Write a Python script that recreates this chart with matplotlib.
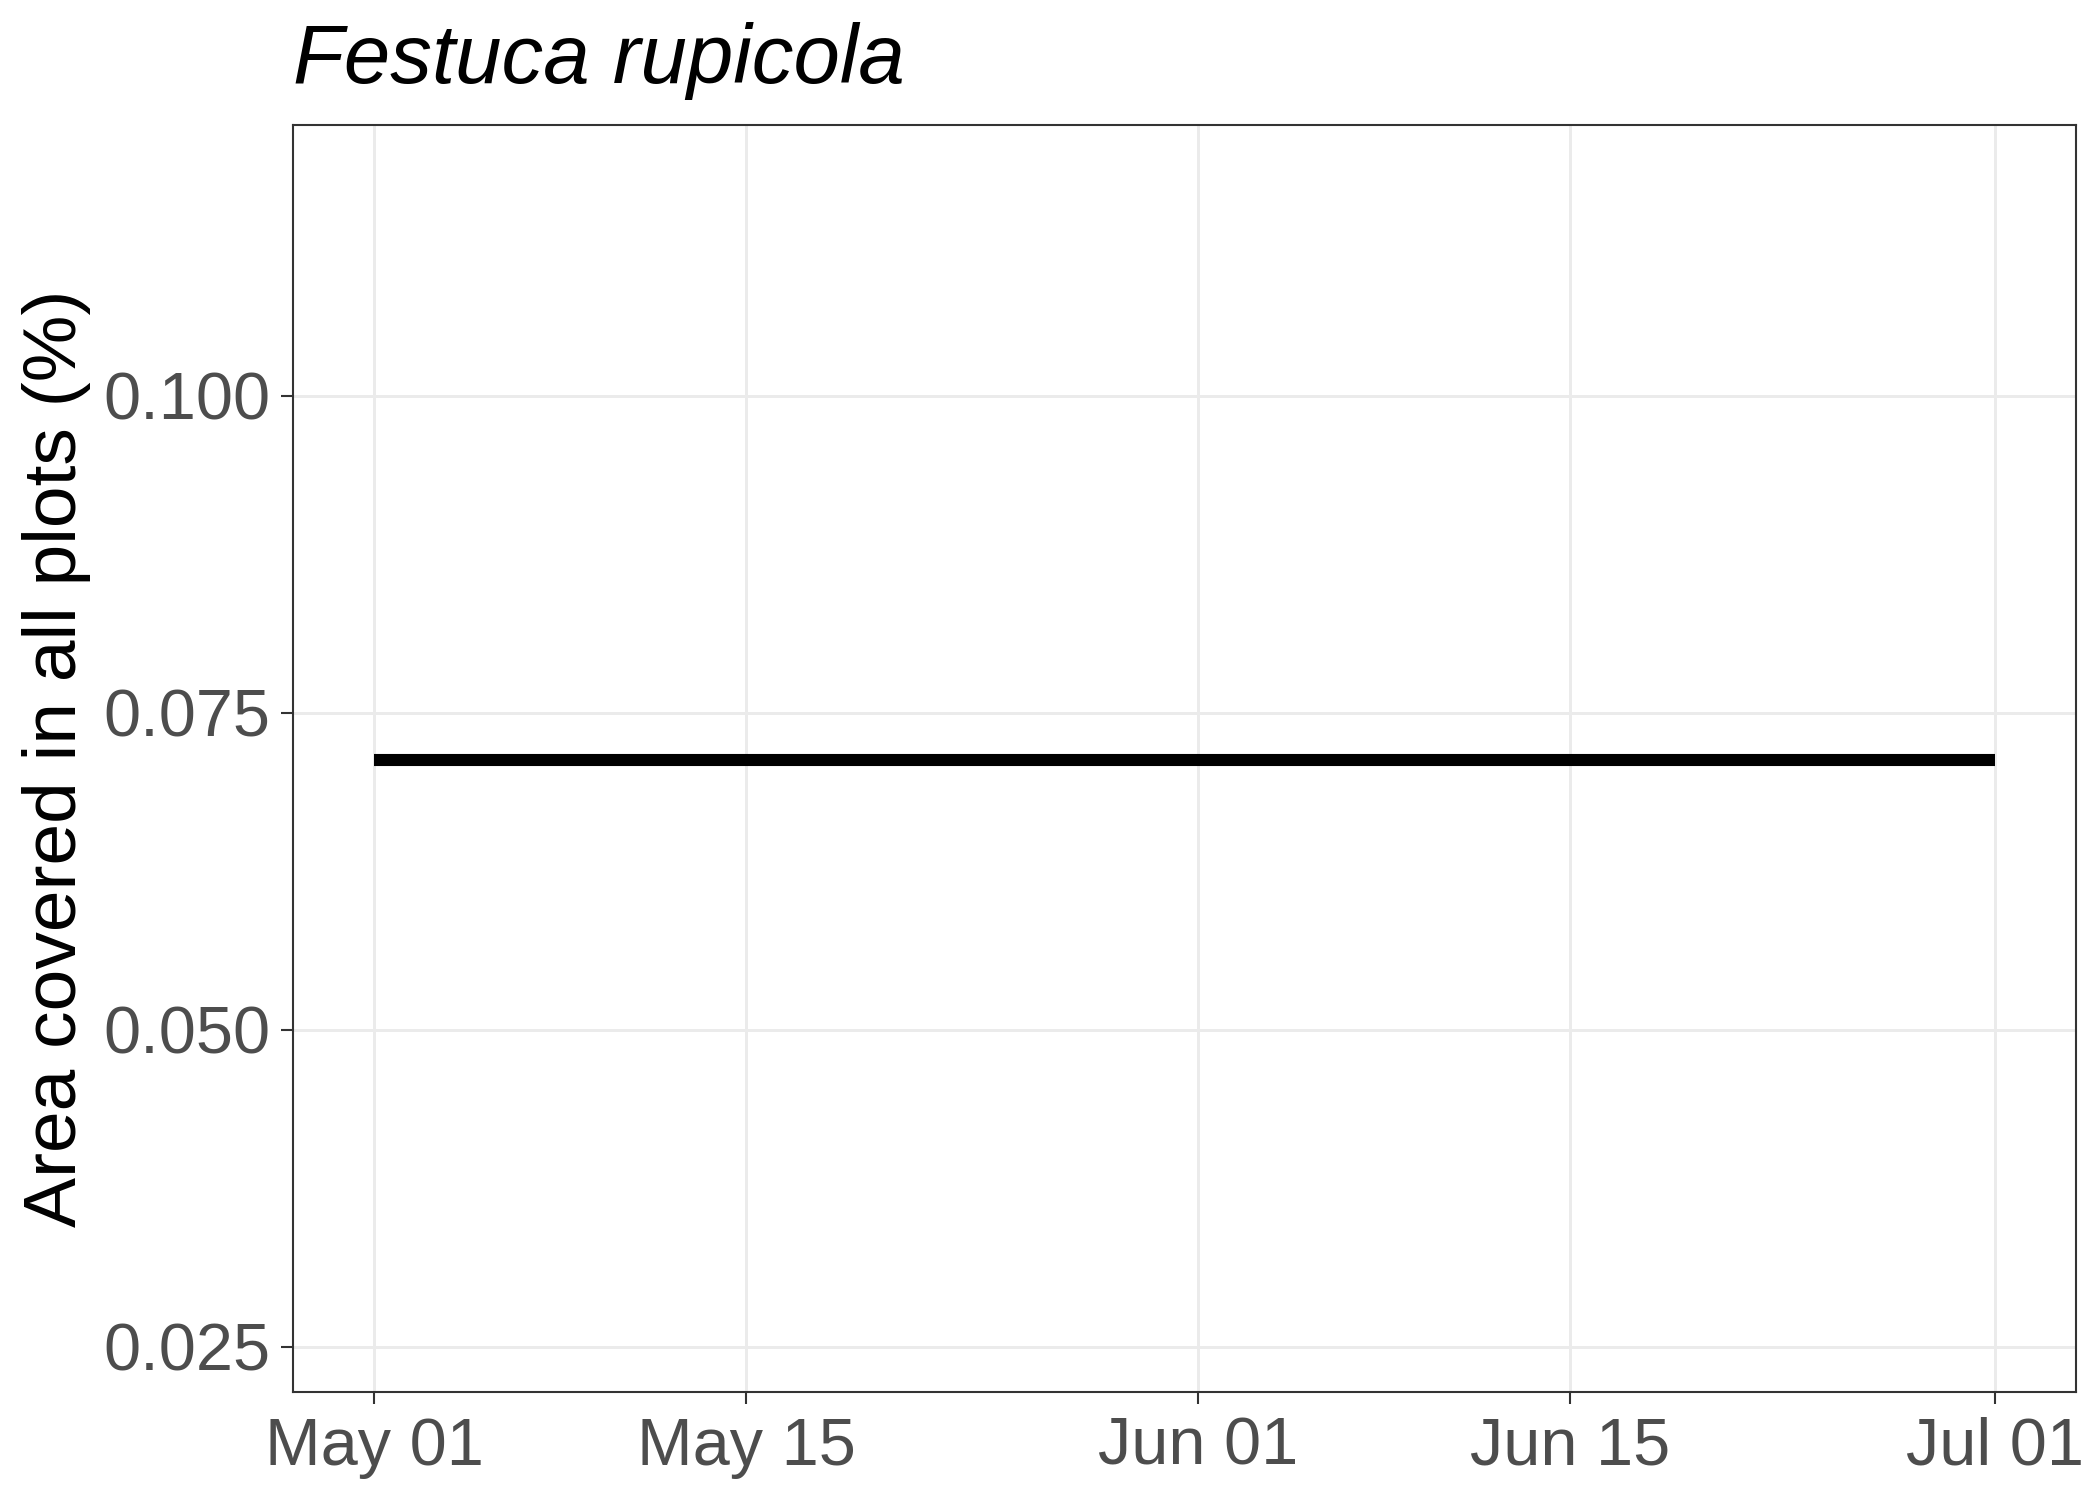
import numpy as np
import pandas as pd
import matplotlib
matplotlib.use("Agg")
import matplotlib.pyplot as plt
import matplotlib.dates as mdates

# data
dates = pd.to_datetime(["2021-05-01", "2021-07-01"])
cover = [0.0713, 0.0713]
y_ticks = [0.025, 0.050, 0.075, 0.100]
x_ticks = pd.to_datetime(["2021-05-01", "2021-05-15", "2021-06-01", "2021-06-15", "2021-07-01"])

plt.rcParams['font.family'] = ['Liberation Sans', 'DejaVu Sans']

fig = plt.figure(figsize=(7, 5), dpi=300)
# panel: left 293, right 2076, top 125, bottom 1392 (px of 2100x1500)
ax = fig.add_axes([293 / 2100, 1 - 1392 / 1500, (2076 - 293) / 2100, (1392 - 125) / 1500])

ax.plot(dates, cover, color='black', linewidth=2.9, solid_capstyle='butt', zorder=3)

# ggplot-style 5% expansion on x
span = dates[-1] - dates[0]
ax.set_xlim(dates[0] - span * 0.05, dates[-1] + span * 0.05)
ax.set_ylim(0.02145, 0.12135)

ax.set_xticks(x_ticks)
ax.xaxis.set_major_formatter(mdates.DateFormatter('%b %d'))
ax.set_yticks(y_ticks)
ax.set_yticklabels([f"{v:.3f}" for v in y_ticks])

ax.grid(True, color='#EBEBEB', linewidth=0.7, zorder=0)
ax.set_axisbelow(True)
for s in ax.spines.values():
    s.set_color('#333333')
    s.set_linewidth(0.5)

ax.tick_params(axis='both', colors='#333333', length=2.9, width=0.5,
               labelsize=16, labelcolor='#4D4D4D')
ax.tick_params(axis='x', pad=3.0)
ax.tick_params(axis='y', pad=2.5)

ax.set_ylabel("Area covered in all plots (%)", fontsize=18, color='black', labelpad=3)
fig.text(293 / 2100, 1 - 83 / 1500, "Festuca rupicola", fontsize=20, style='italic',
         ha='left', va='baseline')

fig.savefig("out.png", dpi=300)
